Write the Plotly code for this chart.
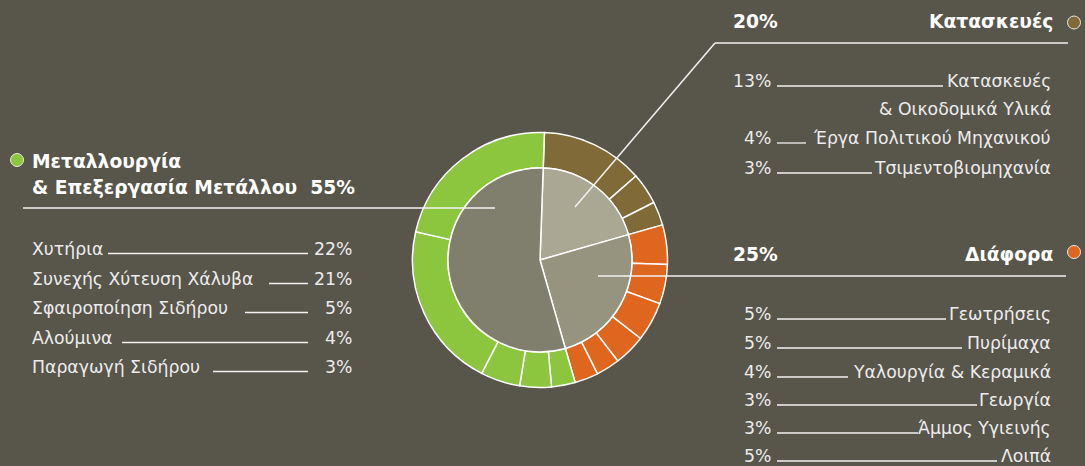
import plotly.graph_objects as go

# ---------------- data ----------------
group_labels = ["Κατασκευές", "Διάφορα", "Μεταλλουργία & Επεξεργασία Μετάλλου"]
group_values = [20, 25, 55]
group_colors = ["#806b38", "#df661e", "#8cc63f"]
inner_colors = ["#aaa892", "#96937f", "#807e6c"]

const_labels = ["Κατασκευές", "Έργα Πολιτικού Μηχανικού", "Τσιμεντοβιομηχανία"]
const_values = [13, 4, 3]

misc_labels = ["Γεωτρήσεις", "Πυρίμαχα", "Υαλουργία & Κεραμικά", "Γεωργία", "Άμμος Υγιεινής", "Λοιπά"]
misc_values = [5, 5, 4, 3, 3, 5]
misc_ring_order = [0, 1, 5, 2, 3, 4]

metal_labels = ["Χυτήρια", "Συνεχής Χύτευση Χάλυβα", "Σφαιροποίηση Σιδήρου", "Αλούμινα", "Παραγωγή Σιδήρου"]
metal_values = [22, 21, 5, 4, 3]
metal_ring_order = [4, 3, 2, 1, 0]

# ---------------- layout helpers ----------------
W, H = 1085, 466
BG = "#58554a"
TXT = "#ececec"
LINE = "#f2f2f2"
FONT = "DejaVu Sans, Liberation Sans, Arial, sans-serif"
SZ = 17.3
BSZ = 18.7

def X(px):
    return px / W

def Y(py):
    return 1 - py / H

cx, cy = 540, 260
r_out, r_in = 127.5, 92

ring_labels, ring_values, ring_colors = [], [], []
for i, v in zip(range(len(const_values)), const_values):
    ring_labels.append(const_labels[i]); ring_values.append(v); ring_colors.append(group_colors[0])
for i in misc_ring_order:
    ring_labels.append(misc_labels[i]); ring_values.append(misc_values[i]); ring_colors.append(group_colors[1])
for i in metal_ring_order:
    ring_labels.append(metal_labels[i]); ring_values.append(metal_values[i]); ring_colors.append(group_colors[2])

fig = go.Figure()
fig.add_trace(go.Pie(
    labels=ring_labels, values=ring_values, sort=False, direction="clockwise", rotation=2,
    hole=r_in / r_out, textinfo="none", hoverinfo="skip", showlegend=False,
    marker=dict(colors=ring_colors, line=dict(color="white", width=1.5)),
    domain=dict(x=[X(cx - r_out), X(cx + r_out)], y=[Y(cy + r_out), Y(cy - r_out)]),
))
fig.add_trace(go.Pie(
    labels=group_labels, values=group_values, sort=False, direction="clockwise", rotation=2,
    textinfo="none", hoverinfo="skip", showlegend=False,
    marker=dict(colors=inner_colors, line=dict(color="white", width=1.5)),
    domain=dict(x=[X(cx - r_in), X(cx + r_in)], y=[Y(cy + r_in), Y(cy - r_in)]),
))

ann = []
shapes = []

def text(x, y, s, anchor, size=SZ, bold=False, color=TXT):
    ann.append(dict(x=X(x), y=Y(y), xref="paper", yref="paper", text=(f"<b>{s}</b>" if bold else s),
                    showarrow=False, xanchor=anchor, yanchor="middle",
                    font=dict(family=FONT, size=size, color=color)))

def hline(x0, x1, y, w=1.3):
    shapes.append(dict(type="line", xref="paper", yref="paper", x0=X(x0), x1=X(x1), y0=Y(y), y1=Y(y),
                       line=dict(color=LINE, width=w)))

def dot(x, y, color, r=6.5):
    shapes.append(dict(type="circle", xref="paper", yref="paper", x0=X(x - r), x1=X(x + r),
                       y0=Y(y + r), y1=Y(y - r), fillcolor=color, line=dict(color="#e8e8e8", width=1)))

# ---- left block (metallurgy) ----
dot(17, 160, group_colors[2])
text(30, 161, "Μεταλλουργία", "left", BSZ, True, "white")
text(30, 188, f"& Επεξεργασία Μετάλλου&nbsp;&nbsp;{group_values[2]}%", "left", BSZ, True, "white")
hline(23, 495, 208, 1.5)
metal_rows = [249, 279, 308, 338, 367]
metal_line_start = [108, 269, 245, 122, 213]
for lab, val, yy, xs in zip(metal_labels, metal_values, metal_rows, metal_line_start):
    text(30, yy, lab, "left")
    text(354, yy, f"{val}%", "right")
    hline(xs, 308, yy + 4.5)

# ---- top right block (construction) ----
dot(1074, 22.5, group_colors[0])
text(731, 21, f"{group_values[0]}%", "left", BSZ, True, "white")
text(1055, 21, group_labels[0], "right", BSZ, True, "white")
shapes.append(dict(type="line", xref="paper", yref="paper", x0=X(575), y0=Y(207), x1=X(715), y1=Y(43),
                   line=dict(color=LINE, width=1.5)))
hline(715, 1068, 43, 1.5)
const_rows = [81, 138, 168]
const_line_end = [943, 806, 872]
for lab, val, yy, xe in zip(const_labels, const_values, const_rows, const_line_end):
    text(773, yy, f"{val}%", "right")
    text(1053, yy, lab, "right")
    hline(777, xe, yy + 5)
text(1053, 109, "& Οικοδομικά Υλικά", "right")

# ---- bottom right block (misc) ----
dot(1074, 252, group_colors[1])
text(731, 254, f"{group_values[1]}%", "left", BSZ, True, "white")
text(1055, 254, group_labels[1], "right", BSZ, True, "white")
hline(598, 1066, 276, 1.5)
misc_rows = [314, 343, 372, 400, 428, 456]
misc_line_end = [946, 962, 848, 977, 918, 997]
for lab, val, yy, xe in zip(misc_labels, misc_values, misc_rows, misc_line_end):
    text(773, yy, f"{val}%", "right")
    text(1053, yy, lab, "right")
    hline(777, xe, yy + 5)

fig.update_layout(
    width=W, height=H, margin=dict(l=0, r=0, t=0, b=0),
    paper_bgcolor=BG, plot_bgcolor=BG,
    annotations=ann, shapes=shapes,
)
fig.write_html("out.html", config={"displayModeBar": False},
               post_script="document.body.style.margin='0';document.body.style.overflow='hidden';")
